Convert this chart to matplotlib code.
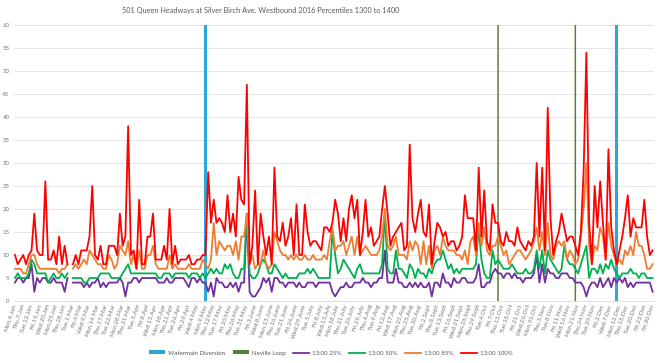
import numpy as np
import matplotlib
matplotlib.use("Agg")
import matplotlib.pyplot as plt
from matplotlib.patches import Patch
from matplotlib.lines import Line2D

nan = np.nan
plt.rcParams['font.family'] = ['Lato', 'DejaVu Sans']

title = "501 Queen Headways at Silver Birch Ave. Westbound 2016 Percentiles 1300 to 1400"

tick_labels = [
    "Mon.4.Jan", "Thu.7.Jan", "Tue.12.Jan", "Fri.15.Jan", "Wed.20.Jan", "Mon.25.Jan", "Thu.28.Jan",
    "Tue.1.Mar", "Fri.4.Mar", "Wed.9.Mar", "Mon.14.Mar", "Thu.17.Mar", "Tue.22.Mar", "Mon.28.Mar",
    "Thu.31.Mar", "Tue.5.Apr", "Fri.8.Apr", "Wed.13.Apr", "Mon.18.Apr", "Thu.21.Apr", "Tue.26.Apr",
    "Fri.29.Apr", "Wed.4.May", "Mon.9.May", "Thu.12.May", "Tue.17.May", "Fri.20.May", "Thu.26.May",
    "Tue.31.May", "Fri.3.June", "Wed.8.June", "Mon.13.June", "Thu.16.June", "Tue.21.June",
    "Fri.24.June", "Wed.29.June", "Tue.5.July", "Fri.8.July", "Wed.13.July", "Mon.18.July",
    "Thu.21.July", "Tue.26.July", "Fri.29.July", "Thu.4.Aug", "Tue.9.Aug", "Fri.12.Aug",
    "Wed.17.Aug", "Mon.22.Aug", "Thu.25.Aug", "Tue.30.Aug", "Fri.2.Sept", "Thu.8.Sept",
    "Tue.13.Sept", "Fri.16.Sept", "Wed.21.Sept", "Mon.26.Sept", "Thu.29.Sept", "Tue.4.Oct",
    "Fri.7.Oct", "Thu.13.Oct", "Tue.18.Oct", "Fri.21.Oct", "Wed.26.Oct", "Mon.31.Oct",
    "Thu.3.Nov", "Tue.8.Nov", "Fri.11.Nov", "Wed.16.Nov", "Mon.21.Nov", "Thu.24.Nov",
    "Tue.29.Nov", "Fri.2.Dec", "Wed.7.Dec", "Mon.12.Dec", "Thu.15.Dec", "Tue.20.Dec",
    "Fri.23.Dec", "Fri.30.Dec",
]
n_days = 232
label_step = 3

# 13:00 25%
p25 = [
    4, 5, 5, 4, 5, 5, 8, 2, 5, 4,
    5, 5, 4, 4, 5, 4, 4, 4, 2, 5,
    nan, 4, 4, 4, 4, 3, 4, 3, 4, 4,
    5, 3, 4, 3, 4, 4, 4, 4, 5, 4,
    1, 4, 4, 5, 5, 4, 5, 5, 5, 5,
    5, 5, 4, 4, 4, 5, 4, 4, 5, 5,
    5, 5, 4, 3, 5, 5, 4, 5, 4, 4,
    2, 4, 1, 5, 4, 4, 3, 3, 4, 3,
    4, 2, 4, 4, 19, 2, 1, 1, 2, 3,
    5, 4, 5, 2, 5, 5, 4, 4, 3, 4,
    4, 4, 3, 4, 3, 3, 4, 4, 4, 3,
    4, 4, 4, 4, 4, 2, 1, 2, 3, 3,
    4, 3, 3, 4, 4, 4, 5, 4, 4, 3,
    4, 4, 5, 5, 11, 4, 4, 4, 7, 4,
    4, 3, 3, 4, 3, 4, 3, 4, 3, 3,
    4, 1, 4, 4, 3, 6, 4, 4, 3, 5,
    4, 4, 5, 5, 4, 4, 4, 5, 8, 3,
    3, 4, 4, 6, 7, 6, 6, 5, 6, 6,
    5, 6, 5, 5, 4, 5, 5, 5, 6, 10,
    4, 8, 4, 7, 6, 6, 5, 5, 6, 6,
    6, 5, 5, 4, 4, 4, 3, 1, 3, 4,
    4, 3, 5, 3, 4, 5, 3, 5, 4, 5,
    4, 5, 3, 4, 3, 4, 4, 4, 4, 4,
    4, 2,
]

# 13:00 50%
p50 = [
    5, 6, 5, 5, 5, 6, 9, 8, 6, 6,
    6, 6, 4, 5, 6, 5, 5, 6, 5, 6,
    nan, 5, 5, 5, 5, 4, 4, 5, 5, 5,
    5, 6, 6, 6, 6, 5, 5, 5, 5, 6,
    7, 8, 6, 6, 6, 6, 6, 6, 6, 6,
    6, 6, 5, 5, 6, 6, 6, 5, 6, 6,
    6, 6, 6, 5, 6, 6, 6, 5, 6, 5,
    6, 7, 6, 7, 6, 6, 8, 7, 8, 6,
    5, 5, 7, 7, 19, 6, 5, 5, 6, 8,
    9, 8, 6, 6, 8, 7, 6, 5, 6, 5,
    5, 5, 5, 6, 6, 6, 7, 6, 7, 6,
    5, 5, 5, 5, 5, 15, 10, 6, 7, 9,
    8, 7, 6, 5, 7, 8, 6, 6, 6, 6,
    6, 6, 6, 8, 19, 7, 6, 6, 11, 7,
    7, 6, 5, 8, 7, 5, 7, 6, 6, 5,
    7, 6, 8, 9, 9, 11, 9, 7, 8, 6,
    7, 6, 7, 7, 7, 7, 7, 8, 16, 9,
    6, 5, 5, 11, 8, 9, 8, 7, 7, 7,
    8, 7, 6, 6, 6, 7, 6, 6, 7, 11,
    7, 11, 6, 11, 9, 8, 7, 6, 7, 12,
    9, 8, 8, 7, 6, 8, 10, 12, 5, 7,
    7, 6, 8, 6, 8, 7, 9, 7, 6, 5,
    6, 6, 6, 7, 6, 6, 5, 6, 6, 5,
    5, 5,
]

# 13:00 85%
p85 = [
    7, 7, 7, 6, 6, 8, 10, 10, 8, 7,
    7, 7, 7, 7, 7, 7, 6, 7, 7, 8,
    nan, 7, 8, 7, 8, 9, 8, 11, 10, 9,
    8, 8, 7, 7, 10, 9, 7, 8, 12, 11,
    10, 13, 8, 10, 7, 11, 7, 7, 10, 10,
    12, 8, 7, 7, 7, 7, 10, 7, 8, 7,
    7, 7, 7, 8, 7, 7, 7, 7, 9, 8,
    7, 9, 17, 10, 13, 12, 11, 12, 12, 10,
    13, 9, 14, 14, 19, 8, 10, 7, 8, 8,
    11, 8, 7, 8, 15, 13, 11, 10, 10, 9,
    10, 9, 10, 9, 9, 10, 9, 9, 10, 9,
    9, 9, 10, 9, 13, 16, 11, 12, 12, 13,
    10, 12, 14, 10, 14, 10, 11, 12, 11, 10,
    10, 10, 11, 14, 20, 12, 11, 12, 14, 10,
    10, 10, 9, 13, 11, 13, 12, 8, 13, 8,
    12, 7, 11, 12, 10, 14, 12, 11, 11, 11,
    10, 10, 9, 11, 8, 13, 14, 10, 17, 12,
    16, 11, 10, 12, 12, 14, 12, 10, 11, 8,
    9, 10, 11, 11, 10, 9, 10, 11, 13, 16,
    11, 15, 10, 17, 10, 9, 12, 13, 12, 13,
    9, 11, 10, 8, 9, 14, 20, 30, 12, 8,
    12, 11, 16, 14, 9, 17, 12, 10, 8, 9,
    8, 11, 10, 12, 10, 15, 12, 12, 10, 7,
    7, 8,
]

# 13:00 100%
p100 = [
    10, 8, 9, 10, 8, 10, 11, 19, 11, 10,
    10, 26, 9, 9, 11, 8, 14, 8, 12, 8,
    nan, 8, 10, 8, 11, 11, 11, 14, 25, 10,
    9, 12, 8, 8, 12, 12, 12, 10, 19, 12,
    14, 38, 10, 11, 7, 22, 8, 8, 14, 14,
    19, 9, 9, 9, 12, 9, 20, 8, 12, 8,
    9, 9, 9, 10, 8, 8, 9, 9, 10, 10,
    28, 17, 22, 17, 18, 17, 15, 23, 15, 19,
    14, 27, 22, 21, 47, 8, 12, 24, 8, 19,
    14, 10, 14, 8, 29, 14, 13, 17, 12, 14,
    18, 10, 21, 10, 10, 21, 15, 12, 13, 13,
    12, 11, 16, 16, 15, 17, 22, 19, 13, 18,
    13, 20, 23, 18, 22, 10, 15, 22, 14, 16,
    12, 13, 14, 20, 25, 19, 12, 14, 15, 16,
    17, 11, 12, 34, 18, 15, 19, 22, 15, 14,
    21, 8, 13, 17, 16, 14, 15, 12, 13, 13,
    11, 12, 14, 23, 18, 18, 18, 11, 29, 14,
    24, 13, 11, 21, 17, 17, 13, 12, 15, 13,
    13, 12, 16, 13, 12, 11, 13, 12, 14, 30,
    14, 29, 11, 42, 18, 10, 13, 15, 19, 16,
    13, 14, 14, 12, 10, 15, 28, 54, 17, 8,
    25, 16, 26, 17, 9, 33, 16, 11, 8, 11,
    14, 18, 23, 14, 18, 16, 16, 16, 22, 14,
    10, 11,
]

# event markers (column series) : category index, value
watermain_idx = [69, 218]
watermain_val = [60, 60]
neville_idx = [175, 203]
neville_val = [60, 60]

c_blue = '#2BA8D5'
c_dgreen = '#5B7F3A'
c_purple = '#7030A0'
c_green = '#00B050'
c_orange = '#ED7D31'
c_red = '#FF0000'
txt = '#595959'
txt_light = '#7a7a7a'

fig = plt.figure(figsize=(6.6, 3.63), dpi=100)
ax = fig.add_axes([13.6 / 660, 1 - 301 / 363, (654 - 13.6) / 660, (301 - 25) / 363])

x = np.arange(n_days)
ax.bar(watermain_idx, watermain_val, width=1.0, color=c_blue, zorder=2)
neville_bars = ax.bar(neville_idx, neville_val, width=0.55, color=c_dgreen, linewidth=0, zorder=2)
for b in neville_bars:
    b.set_snap(False)
lw = 1.3
ax.plot(x, p25, color=c_purple, lw=lw, zorder=3)
ax.plot(x, p50, color=c_green, lw=lw, zorder=4)
ax.plot(x, p85, color=c_orange, lw=lw, zorder=5)
ax.plot(x, p100, color=c_red, lw=lw, zorder=6)

ax.set_xlim(-0.5, n_days - 0.5)
ax.set_ylim(0, 60)
ax.set_yticks(range(0, 61, 5))
ax.tick_params(axis='y', length=0, labelsize=4.3, labelcolor=txt_light, pad=3)
ax.set_xticks(range(0, n_days, label_step))
ax.set_xticklabels(tick_labels, rotation=72, ha='right', va='center',
                   rotation_mode='anchor', fontsize=4.5, color=txt_light)
ax.tick_params(axis='x', length=0, pad=2)
ax.grid(axis='y', color='#e0e0e0', lw=0.6, zorder=0)
ax.set_axisbelow(True)
for s in ['top', 'right', 'left']:
    ax.spines[s].set_visible(False)
ax.spines['bottom'].set_color('#d9d9d9')
ax.spines['bottom'].set_linewidth(0.6)

fig.text(261 / 660, 1 - 10 / 363, title, ha='center', va='center', fontsize=5.3, color=txt)

handles = [
    Patch(facecolor=c_blue, label='Watermain Diversion'),
    Patch(facecolor=c_dgreen, label='Neville Loop'),
    Line2D([0], [0], color=c_purple, lw=1.3, label='13:00 25%'),
    Line2D([0], [0], color=c_green, lw=1.3, label='13:00 50%'),
    Line2D([0], [0], color=c_orange, lw=1.3, label='13:00 85%'),
    Line2D([0], [0], color=c_red, lw=1.3, label='13:00 100%'),
]
leg = fig.legend(handles=handles, loc='center', bbox_to_anchor=(331 / 660, 1 - 353 / 363), ncol=6,
                 frameon=False, fontsize=4.4, handlelength=2.6, handleheight=0.6,
                 columnspacing=1.3, handletextpad=0.5)
for t in leg.get_texts():
    t.set_color(txt)

fig.savefig('out.png', dpi=100)
